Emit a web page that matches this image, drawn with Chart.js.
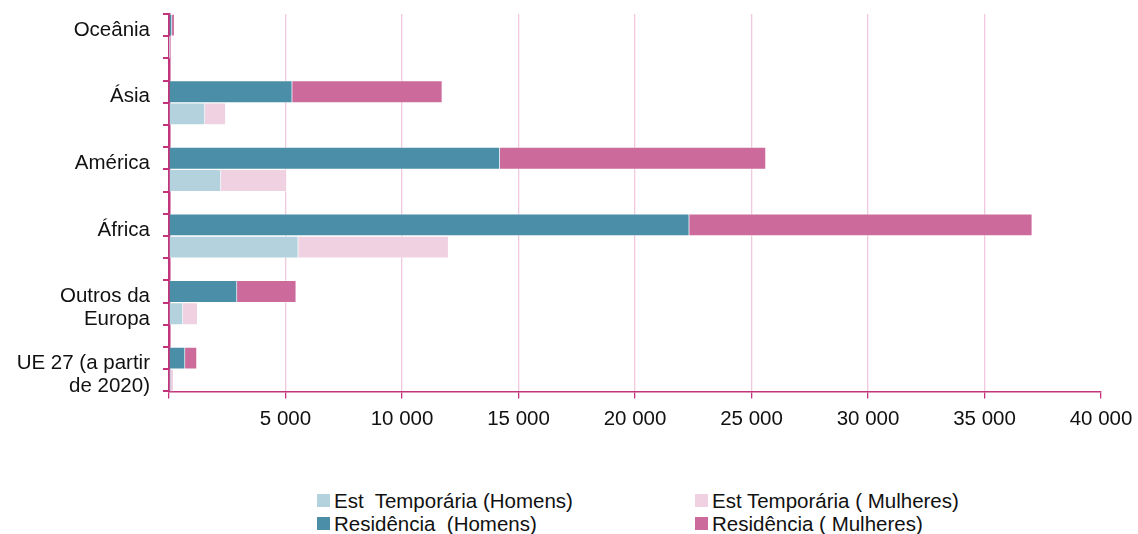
<!DOCTYPE html>
<html lang="pt">
<head>
<meta charset="utf-8">
<script src="https://cdn.jsdelivr.net/npm/chart.js@4"></script>
<style>
  html, body { margin: 0; padding: 0; background: #fff; }
  body { width: 1138px; height: 534px; position: relative; overflow: hidden; font-family: "Liberation Sans", Arial, sans-serif; }
  #wrap { position: absolute; left: 0; top: 0; width: 1138px; height: 443px; }
  #legend { position: absolute; left: 317px; top: 489px; display: grid; grid-template-columns: 378px 300px; font-size: 20.5px; line-height: 23px; color: #111; }
  #legend .item { display: flex; align-items: center; white-space: pre; }
  #legend .box { width: 13px; height: 13px; margin-right: 4px; flex: none; }
</style>
</head>
<body>
<div id="wrap"><canvas id="chart"></canvas></div>
<div id="legend"></div>
<script>
// regiões (de cima para baixo) e rótulos em várias linhas
const regions = ['Oceânia', 'Ásia', 'América', 'África', 'Outros da Europa', 'UE 27 (a partir de 2020)'];
const regionLines = [['Oceânia'], ['Ásia'], ['América'], ['África'], ['Outros da', 'Europa'], ['UE 27 (a partir', 'de 2020)']];

// valores
const resHomens   = [130, 5290, 14200, 22330, 2920, 690];
const resMulheres = [110, 6440, 11420, 14720, 2540, 510];
const estHomens   = [15, 1545, 2230, 5550, 600, 80];
const estMulheres = [30, 890, 2820, 6450, 630, 120];

const xTicks = [0, 5000, 10000, 15000, 20000, 25000, 30000, 35000, 40000];

// === linhas da tabela: residência, est. temporária, linha vazia ===
const labels = [], rows = [];
regions.forEach((r, i) => {
    const lines = regionLines[i].length > 1 ? [''].concat(regionLines[i]) : regionLines[i];
    labels.push(lines); rows.push({ kind: 'res', i });
    labels.push('');    rows.push({ kind: 'est', i });
    if (i < regions.length - 1) { labels.push(''); rows.push({ kind: 'gap', i }); }
});
const pick = (kind, arr) => rows.map(r => r.kind === kind ? arr[r.i] : null);

const series = [
    { label: 'Est  Temporária (Homens)',   data: pick('est', estHomens),   color: '#b3d2de' },
    { label: 'Est Temporária ( Mulheres)', data: pick('est', estMulheres), color: '#f0d1e2' },
    { label: 'Residência  (Homens)',       data: pick('res', resHomens),   color: '#4a8ea8' },
    { label: 'Residência ( Mulheres)',     data: pick('res', resMulheres), color: '#cc6a9c' }
];

const axisColor = '#c2347c';
const gridColor = '#f1c8dd';
const font = { family: '"Liberation Sans", Arial, sans-serif', size: 20.5 };
const fmt = v => String(v).replace(/\B(?=(\d{3})+(?!\d))/g, ' ');

new Chart(document.getElementById('chart'), {
    type: 'bar',
    data: {
        labels: labels,
        datasets: series.map(s => ({
            label: s.label,
            data: s.data,
            backgroundColor: s.color,
            borderColor: 'rgba(255,255,255,0.35)',
            borderWidth: 1,
            barPercentage: 1,
            categoryPercentage: 1
        }))
    },
    options: {
        indexAxis: 'y',
        responsive: true,
        maintainAspectRatio: false,
        animation: false,
        layout: { padding: { left: 0, right: 37, top: 14, bottom: 2 } },
        plugins: { legend: { display: false }, tooltip: { enabled: false } },
        scales: {
            x: {
                stacked: true,
                min: 0, max: 40000,
                afterBuildTicks: s => { s.ticks = xTicks.map(v => ({ value: v })); },
                afterFit: s => { s.paddingLeft = 0; s.paddingRight = 0; },
                ticks: { font: font, color: '#111', padding: 9, maxRotation: 0, callback: v => v === 0 ? '' : fmt(v) },
                grid: {
                    color: c => (c.tick && (c.tick.value === 0 || c.tick.value === 40000)) ? 'rgba(0,0,0,0)' : gridColor,
                    tickColor: axisColor,
                    tickLength: 7,
                    lineWidth: 1.3
                },
                border: { color: axisColor, width: 1.5 }
            },
            y: {
                stacked: true,
                z: 1,
                afterFit: s => { s.width = 169; s.paddingTop = 0; s.paddingBottom = 0; },
                ticks: { font: { ...font, lineHeight: 1.12 }, color: '#111', padding: 13, labelOffset: 5, autoSkip: false },
                grid: { drawOnChartArea: false, tickColor: axisColor, tickLength: 6, lineWidth: 2, offset: true },
                border: { color: axisColor, width: 2.5 }
            }
        }
    }
});

// === legenda em duas colunas ===
const legend = document.getElementById('legend');
series.forEach(s => {
    const item = document.createElement('div');
    item.className = 'item';
    const box = document.createElement('span');
    box.className = 'box';
    box.style.background = s.color;
    const txt = document.createElement('span');
    txt.textContent = s.label;
    item.appendChild(box);
    item.appendChild(txt);
    legend.appendChild(item);
});
</script>
</body>
</html>
